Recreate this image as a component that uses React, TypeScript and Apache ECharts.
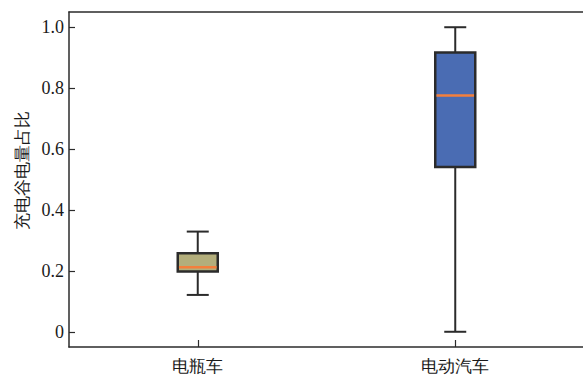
import React, { useEffect, useRef } from "react";
import * as echarts from "echarts";

// Vehicle types on the category axis
const categories: string[] = ["电瓶车", "电动汽车"];

// Box statistics per vehicle type: [lower whisker, Q1, median, Q3, upper whisker]
const ebikeStats: number[] = [0.121, 0.198, 0.212, 0.258, 0.329];
const evStats: number[] = [0.0, 0.541, 0.776, 0.917, 1.0];

const boxFills: string[] = ["#b3ae7b", "#4a6cb3"];

const yAxisTitle = "充电谷电量占比";

const FONT = "Liberation Serif";

export default function App() {
  const ref = useRef<HTMLDivElement>(null);

  useEffect(() => {
    if (!ref.current) return;
    const chart = echarts.init(ref.current, undefined, { renderer: "svg" });

    const seriesData = [ebikeStats, evStats].map((s, i) => [i, ...s]);

    const edge = "#2b2b2b";
    const boxW = 40;
    const capW = 22;
    const spine = { color: "#2b2b2b", width: 1.5 };

    chart.setOption({
      animation: false,
      // the plot area runs a little past the visible right edge
      grid: {
        left: 69,
        right: 6,
        top: 12,
        bottom: 30,
        show: false,
      },
      graphic: [
        {
          type: "text",
          x: 22,
          y: 170,
          rotation: Math.PI / 2,
          style: {
            text: yAxisTitle,
            font: `17px ${FONT}`,
            fill: "#1a1a1a",
            align: "center",
            verticalAlign: "middle",
          },
        },
      ],
      xAxis: [
        {
          type: "category",
          data: categories,
          boundaryGap: true,
          axisLine: { show: true, onZero: false, lineStyle: spine },
          axisTick: {
            show: true,
            inside: true,
            alignWithLabel: true,
            length: 7,
            lineStyle: { color: "#2b2b2b", width: 1.2 },
          },
          axisLabel: {
            color: "#1a1a1a",
            fontSize: 17,
            fontFamily: FONT,
            margin: 11,
          },
          splitLine: { show: false },
        },
        {
          // top spine
          type: "category",
          position: "top",
          data: categories,
          axisLine: { show: true, onZero: false, lineStyle: spine },
          axisTick: { show: false },
          axisLabel: { show: false },
          splitLine: { show: false },
        },
      ],
      yAxis: {
        type: "value",
        min: -0.05,
        max: 1.05,
        axisLine: { show: true, onZero: false, lineStyle: spine },
        axisTick: {
          show: true,
          inside: true,
          length: 6,
          lineStyle: { color: "#2b2b2b", width: 1.2 },
        },
        axisLabel: {
          color: "#1a1a1a",
          fontSize: 18,
          fontFamily: FONT,
          margin: 5,
          showMinLabel: false,
          showMaxLabel: false,
          formatter: (v: number) => {
            if (Math.abs(v * 5 - Math.round(v * 5)) > 1e-6) return "";
            if (Math.abs(v) < 1e-9) return "0";
            return v.toFixed(1);
          },
        },
        splitLine: { show: false },
      },
      series: [
        {
          type: "custom",
          xAxisIndex: 0,
          encode: { x: 0, y: [1, 2, 3, 4, 5] },
          data: seriesData,
          renderItem: (params: any, api: any) => {
            const idx = api.value(0);
            const lo = api.coord([idx, api.value(1)]);
            const q1 = api.coord([idx, api.value(2)]);
            const med = api.coord([idx, api.value(3)]);
            const q3 = api.coord([idx, api.value(4)]);
            const hi = api.coord([idx, api.value(5)]);
            const cx = lo[0];
            const lineStyle = { stroke: edge, lineWidth: 2 };
            return {
              type: "group",
              children: [
                { type: "line", shape: { x1: cx, y1: q1[1], x2: cx, y2: lo[1] }, style: lineStyle },
                { type: "line", shape: { x1: cx, y1: q3[1], x2: cx, y2: hi[1] }, style: lineStyle },
                { type: "line", shape: { x1: cx - capW / 2, y1: lo[1], x2: cx + capW / 2, y2: lo[1] }, style: lineStyle },
                { type: "line", shape: { x1: cx - capW / 2, y1: hi[1], x2: cx + capW / 2, y2: hi[1] }, style: lineStyle },
                {
                  type: "rect",
                  shape: { x: cx - boxW / 2, y: q3[1], width: boxW, height: q1[1] - q3[1] },
                  style: { fill: boxFills[idx], stroke: edge, lineWidth: 2.5 },
                },
                {
                  type: "line",
                  shape: { x1: cx - boxW / 2 + 1.2, y1: med[1], x2: cx + boxW / 2 - 1.2, y2: med[1] },
                  style: { stroke: "#f47f3c", lineWidth: 2.5 },
                },
              ],
            };
          },
        },
      ],
    });

    return () => chart.dispose();
  }, []);

  return (
    <div
      style={{
        position: "absolute",
        left: 0,
        top: 0,
        width: 583,
        height: 377,
        overflow: "hidden",
        background: "#ffffff",
      }}
    >
      <div ref={ref} style={{ width: 590, height: 377 }} />
    </div>
  );
}
